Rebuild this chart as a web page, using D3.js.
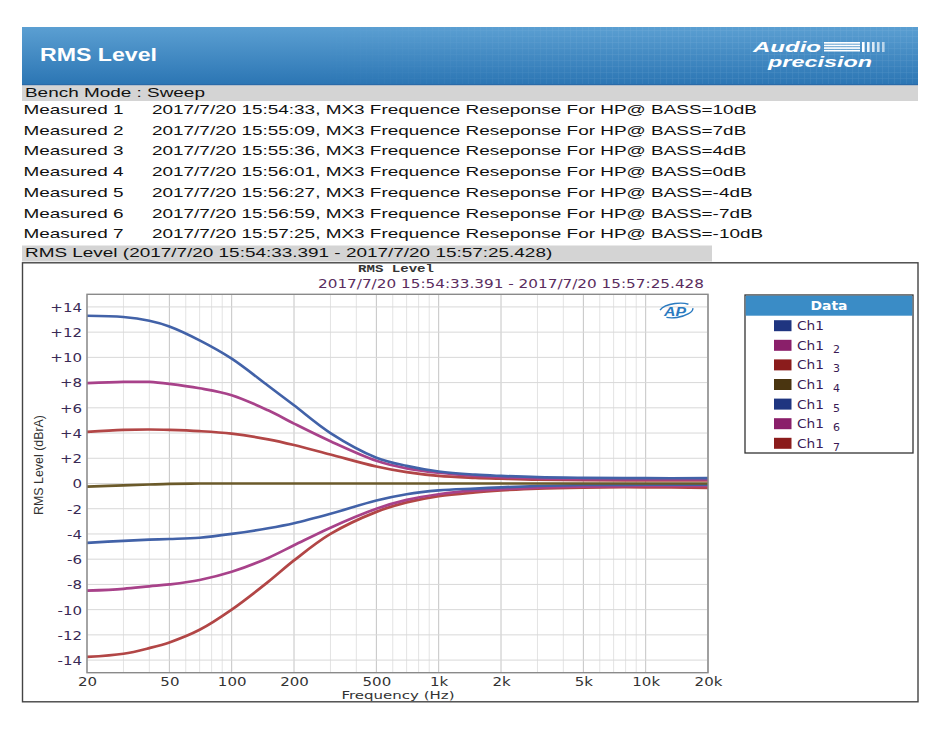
<!DOCTYPE html>
<html><head><meta charset="utf-8">
<script src="https://cdn.jsdelivr.net/npm/d3@7/dist/d3.min.js"></script>
<style>body{margin:0;background:#fff}svg{display:block}</style>
</head><body>
<script>
// ---------- DATA ----------
const freqs = [20, 30, 40, 50, 70, 100, 150, 200, 300, 500, 700, 1000, 1500, 2000, 3000, 5000, 10000, 20000];
const bass10  = [13.3, 13.2, 12.9, 12.45, 11.35, 9.9, 7.75, 6.2, 4.0, 2.05, 1.4, 0.95, 0.7, 0.6, 0.5, 0.45, 0.42, 0.42];
const bass7   = [7.95, 8.05, 8.05, 7.9, 7.55, 7.0, 5.8, 4.75, 3.35, 1.8, 1.2, 0.85, 0.6, 0.5, 0.4, 0.35, 0.33, 0.32];
const bass4   = [4.1, 4.25, 4.28, 4.25, 4.15, 3.95, 3.5, 3.05, 2.3, 1.35, 0.9, 0.6, 0.45, 0.38, 0.3, 0.27, 0.25, 0.25];
const bass0   = [-0.25, -0.15, -0.08, -0.03, 0, 0, 0, 0, 0, 0, 0, 0, 0, 0, 0, 0, 0, 0];
const bassM4  = [-4.7, -4.55, -4.45, -4.4, -4.3, -4.0, -3.55, -3.15, -2.4, -1.35, -0.85, -0.55, -0.4, -0.3, -0.2, -0.12, -0.1, -0.1];
const bassM7  = [-8.5, -8.35, -8.15, -8.0, -7.65, -7.0, -5.9, -4.9, -3.5, -2.0, -1.3, -0.85, -0.55, -0.45, -0.32, -0.25, -0.2, -0.2];
const bassM10 = [-13.75, -13.5, -13.05, -12.6, -11.6, -10.0, -7.8, -6.1, -4.0, -2.25, -1.5, -1.0, -0.7, -0.55, -0.4, -0.32, -0.3, -0.35];
const seriesNames = ["Ch1", "Ch1", "Ch1", "Ch1", "Ch1", "Ch1", "Ch1"];
const seriesSubs = ["", "2", "3", "4", "5", "6", "7"];
const measuredLabels = ["Measured 1","Measured 2","Measured 3","Measured 4","Measured 5","Measured 6","Measured 7"];
const measuredTexts = [
  "2017/7/20 15:54:33, MX3 Frequence Reseponse For HP@ BASS=10dB",
  "2017/7/20 15:55:09, MX3 Frequence Reseponse For HP@ BASS=7dB",
  "2017/7/20 15:55:36, MX3 Frequence Reseponse For HP@ BASS=4dB",
  "2017/7/20 15:56:01, MX3 Frequence Reseponse For HP@ BASS=0dB",
  "2017/7/20 15:56:27, MX3 Frequence Reseponse For HP@ BASS=-4dB",
  "2017/7/20 15:56:59, MX3 Frequence Reseponse For HP@ BASS=-7dB",
  "2017/7/20 15:57:25, MX3 Frequence Reseponse For HP@ BASS=-10dB"
];
const xTickVals = [20, 50, 100, 200, 500, 1000, 2000, 5000, 10000, 20000];
const xTickLabels = ["20", "50", "100", "200", "500", "1k", "2k", "5k", "10k", "20k"];
const yTickVals = [14, 12, 10, 8, 6, 4, 2, 0, -2, -4, -6, -8, -10, -12, -14];
const yTickLabels = ["+14", "+12", "+10", "+8", "+6", "+4", "+2", "0", "-2", "-4", "-6", "-8", "-10", "-12", "-14"];

const allSeries = [bass10, bass7, bass4, bass0, bassM4, bassM7, bassM10];
const lineColors = ["#4262a8", "#a8428a", "#b24646", "#6b5a2a", "#4262a8", "#a8428a", "#b24646"];
const swatchColors = ["#1f3580", "#8a1f6a", "#8b1c1c", "#4a3510", "#1f3580", "#8a1f6a", "#8b1c1c"];

// ---------- SVG ----------
const W = 928, H = 732;
const svg = d3.select("body").append("svg").attr("width", W).attr("height", H);
const defs = svg.append("defs");

// Header band
const hg = defs.append("linearGradient").attr("id", "hg").attr("x1", 0).attr("y1", 0).attr("x2", 0).attr("y2", 1);
hg.append("stop").attr("offset", 0).attr("stop-color", "#5b9fd2");
hg.append("stop").attr("offset", 1).attr("stop-color", "#2c76b4");
const pat = defs.append("pattern").attr("id", "grid").attr("width", 6).attr("height", 6).attr("patternUnits", "userSpaceOnUse");
pat.append("path").attr("d", "M6 0 L0 0 0 6").attr("fill", "none").attr("stroke", "#ffffff").attr("stroke-width", 0.8);
const mg = defs.append("linearGradient").attr("id", "mg");
mg.append("stop").attr("offset", 0).attr("stop-color", "#fff").attr("stop-opacity", 0);
mg.append("stop").attr("offset", 0.5).attr("stop-color", "#fff").attr("stop-opacity", 1);
mg.append("stop").attr("offset", 1).attr("stop-color", "#fff").attr("stop-opacity", 1);
defs.append("mask").attr("id", "mk").append("rect").attr("x", 300).attr("y", 27).attr("width", 618).attr("height", 57).attr("fill", "url(#mg)");

svg.append("rect").attr("x", 22).attr("y", 27).attr("width", 896).attr("height", 57).attr("fill", "url(#hg)");
svg.append("rect").attr("x", 300).attr("y", 27).attr("width", 618).attr("height", 57).attr("fill", "url(#grid)").attr("opacity", 0.13).attr("mask", "url(#mk)");
svg.append("text").attr("x", 40).attr("y", 61).attr("fill", "#fff").attr("font-family", "Liberation Sans, Arial").attr("font-weight", "bold").attr("font-size", 18).attr("textLength", 117).attr("lengthAdjust", "spacingAndGlyphs").text("RMS Level");

// Audio Precision logo
const lg = svg.append("g").attr("fill", "#fff").attr("font-family", "Liberation Sans, Arial").attr("font-weight", "bold").attr("font-style", "italic");
lg.append("text").attr("x", 753).attr("y", 52).attr("font-size", 15.5).attr("textLength", 68).attr("lengthAdjust", "spacingAndGlyphs").text("Audio");
lg.append("text").attr("x", 768).attr("y", 67).attr("font-size", 15.5).attr("textLength", 104).attr("lengthAdjust", "spacingAndGlyphs").text("precision");
[0, 1, 2, 3].forEach(i => lg.append("rect").attr("x", 824).attr("y", 42 + i * 2.6).attr("width", 36).attr("height", 1.7));
[0, 1, 2, 3, 4].forEach(i => lg.append("rect").attr("x", 862 + i * 5).attr("y", 42).attr("width", 2.6).attr("height", 10).attr("opacity", 1 - i * 0.1));

// Bench mode band
svg.append("rect").attr("x", 22).attr("y", 85).attr("width", 896).attr("height", 16).attr("fill", "#d4d4d4");
svg.append("rect").attr("x", 22).attr("y", 84).attr("width", 896).attr("height", 1.2).attr("fill", "#2a6aa8");

const textFont = "Liberation Sans, Arial";
const fs = 13.5;
const probe = svg.append("text").attr("font-family", textFont).attr("font-size", fs).text("Measured 1");
const sx = 100 / probe.node().getComputedTextLength();
probe.remove();
function stext(x, y, s, col) {
  svg.append("text").attr("transform", `translate(${x},${y}) scale(${sx},1)`).attr("font-family", textFont).attr("font-size", fs).attr("fill", col || "#111").text(s);
}
stext(25, 96.7, "Bench Mode : Sweep");
measuredLabels.forEach((m, i) => {
  const yy = 114 + i * 20.7;
  stext(23.5, yy, m);
  stext(152, yy, measuredTexts[i]);
});
svg.append("rect").attr("x", 22).attr("y", 245.5).attr("width", 690).attr("height", 16).attr("fill", "#d4d4d4");
stext(25, 256.7, "RMS Level (2017/7/20 15:54:33.391 - 2017/7/20 15:57:25.428)");

// Chart frame
svg.append("rect").attr("x", 22.5).attr("y", 262.8).attr("width", 895.5).attr("height", 439).attr("fill", "none").attr("stroke", "#444").attr("stroke-width", 1.4);

svg.append("text").attr("x", 396).attr("y", 272).attr("text-anchor", "middle").attr("font-family", "Liberation Mono, Courier New").attr("font-weight", "bold").attr("font-size", 11).attr("fill", "#333").attr("textLength", 76).attr("lengthAdjust", "spacingAndGlyphs").text("RMS Level");
svg.append("text").attr("x", 318).attr("y", 288).attr("font-family", "DejaVu Sans, Verdana").attr("font-size", 12.5).attr("fill", "#5a2d5e").attr("textLength", 386).attr("lengthAdjust", "spacingAndGlyphs").text("2017/7/20 15:54:33.391 - 2017/7/20 15:57:25.428");

// Plot
const L = 87, R = 708, T = 294.3, B = 672.7;
const x = d3.scaleLog().domain([20, 20000]).range([L, R]);
const y = d3.scaleLinear().domain([-15, 15]).range([B, T]);

const grid = svg.append("g");
const minor = [];
[10, 100, 1000, 10000].forEach(d => { for (let k = 1; k < 10; k++) { const f = d * k; if (f >= 20 && f <= 20000) minor.push(f); } });
minor.push(20000);
grid.selectAll("line.v").data(minor).join("line")
  .attr("x1", d => x(d)).attr("x2", d => x(d)).attr("y1", T).attr("y2", B)
  .attr("stroke", d => xTickVals.includes(d) ? "#c4c4c4" : "#e3e3e3").attr("stroke-width", 1);
grid.selectAll("line.h").data(yTickVals).join("line")
  .attr("x1", L).attr("x2", R).attr("y1", d => y(d)).attr("y2", d => y(d))
  .attr("stroke", "#d8d8d8").attr("stroke-width", 1);

// AP logo in plot
const ap = svg.append("g");
ap.append("ellipse").attr("cx", 676).attr("cy", 310.5).attr("rx", 17).attr("ry", 7).attr("fill", "none").attr("stroke", "#2a7ac0").attr("stroke-width", 1.4).attr("stroke-dasharray", "30 12").attr("transform", "rotate(-8 676 310.5)");
ap.append("text").attr("x", 664).attr("y", 316).attr("font-family", "Liberation Sans, Arial").attr("font-weight", "bold").attr("font-style", "italic").attr("font-size", 13).attr("fill", "#2a7ac0").attr("textLength", 22).attr("lengthAdjust", "spacingAndGlyphs").text("AP");

// Curves
const line = d3.line().x(d => x(d[0])).y(d => y(d[1])).curve(d3.curveCatmullRom.alpha(0.5));
const order = [6, 5, 4, 3, 2, 1, 0];
defs.append("clipPath").attr("id", "pc").append("rect").attr("x", L).attr("y", T).attr("width", R - L).attr("height", B - T);
const cg = svg.append("g").attr("clip-path", "url(#pc)");
order.forEach(i => {
  const pts = freqs.map((f, j) => [f, allSeries[i][j]]);
  cg.append("path").attr("d", line(pts)).attr("fill", "none").attr("stroke", lineColors[i]).attr("stroke-width", 2.7).attr("stroke-linejoin", "round");
});

// Plot border
svg.append("rect").attr("x", L).attr("y", T).attr("width", R - L).attr("height", B - T).attr("fill", "none").attr("stroke", "#8a8a8a").attr("stroke-width", 1.4);

// Axes
const yAxis = svg.append("g").attr("transform", `translate(${L - 5},0)`)
  .call(d3.axisLeft(y).tickValues(yTickVals).tickSize(0).tickPadding(0).tickFormat((d, i) => yTickLabels[i]));
yAxis.select(".domain").remove();
yAxis.selectAll("text").attr("font-family", "DejaVu Sans, Verdana").attr("font-size", 12.5).attr("fill", "#3a2a55").attr("dy", "0.35em")
  .each(function () { const w = this.getComputedTextLength(); d3.select(this).attr("textLength", w * 1.2).attr("lengthAdjust", "spacingAndGlyphs"); });

const xAxis = svg.append("g").attr("transform", `translate(0,${B})`)
  .call(d3.axisBottom(x).tickValues(xTickVals).tickSize(0).tickPadding(4).tickFormat((d, i) => xTickLabels[i]));
xAxis.select(".domain").remove();
xAxis.selectAll("text").attr("font-family", "DejaVu Sans, Verdana").attr("font-size", 12.5).attr("fill", "#333")
  .each(function () { const w = this.getComputedTextLength(); d3.select(this).attr("textLength", w * 1.2).attr("lengthAdjust", "spacingAndGlyphs"); });

svg.append("text").attr("x", 398).attr("y", 698.5).attr("text-anchor", "middle").attr("font-family", "DejaVu Sans, Verdana").attr("font-size", 11).attr("fill", "#333").attr("textLength", 113).attr("lengthAdjust", "spacingAndGlyphs").text("Frequency (Hz)");
svg.append("text").attr("transform", "translate(42.5,465) rotate(-90)").attr("text-anchor", "middle").attr("font-family", "Liberation Sans Narrow, Liberation Sans, Arial").attr("font-size", 13.5).attr("fill", "#333").attr("textLength", 100).attr("lengthAdjust", "spacingAndGlyphs").text("RMS Level (dBrA)");

// Legend
const lgX = 745, lgY = 295, lgW = 168, lgH = 158;
svg.append("rect").attr("x", lgX).attr("y", lgY).attr("width", lgW).attr("height", lgH).attr("fill", "#fff").attr("stroke", "#333").attr("stroke-width", 1.3);
svg.append("rect").attr("x", lgX + 0.7).attr("y", lgY + 0.7).attr("width", lgW - 1.4).attr("height", 20).attr("fill", "#3a8cc6");
svg.append("text").attr("x", lgX + lgW / 2).attr("y", lgY + 15).attr("text-anchor", "middle").attr("font-family", "DejaVu Sans, Verdana").attr("font-weight", "bold").attr("font-size", 12).attr("fill", "#fff").attr("textLength", 37).attr("lengthAdjust", "spacingAndGlyphs").text("Data");
seriesNames.forEach((n, i) => {
  const cy = 325.7 + i * 19.6;
  svg.append("rect").attr("x", 774).attr("y", cy - 5.5).attr("width", 17.5).attr("height", 11).attr("fill", swatchColors[i]);
  svg.append("text").attr("x", 797).attr("y", cy + 4.5).attr("font-family", "DejaVu Sans, Verdana").attr("font-size", 12).attr("fill", "#3a1a55").attr("textLength", 27).attr("lengthAdjust", "spacingAndGlyphs").text(n);
  if (seriesSubs[i]) svg.append("text").attr("x", 833).attr("y", cy + 7.5).attr("font-family", "DejaVu Sans, Verdana").attr("font-size", 11).attr("fill", "#3a1a55").text(seriesSubs[i]);
});
</script>
</body></html>
